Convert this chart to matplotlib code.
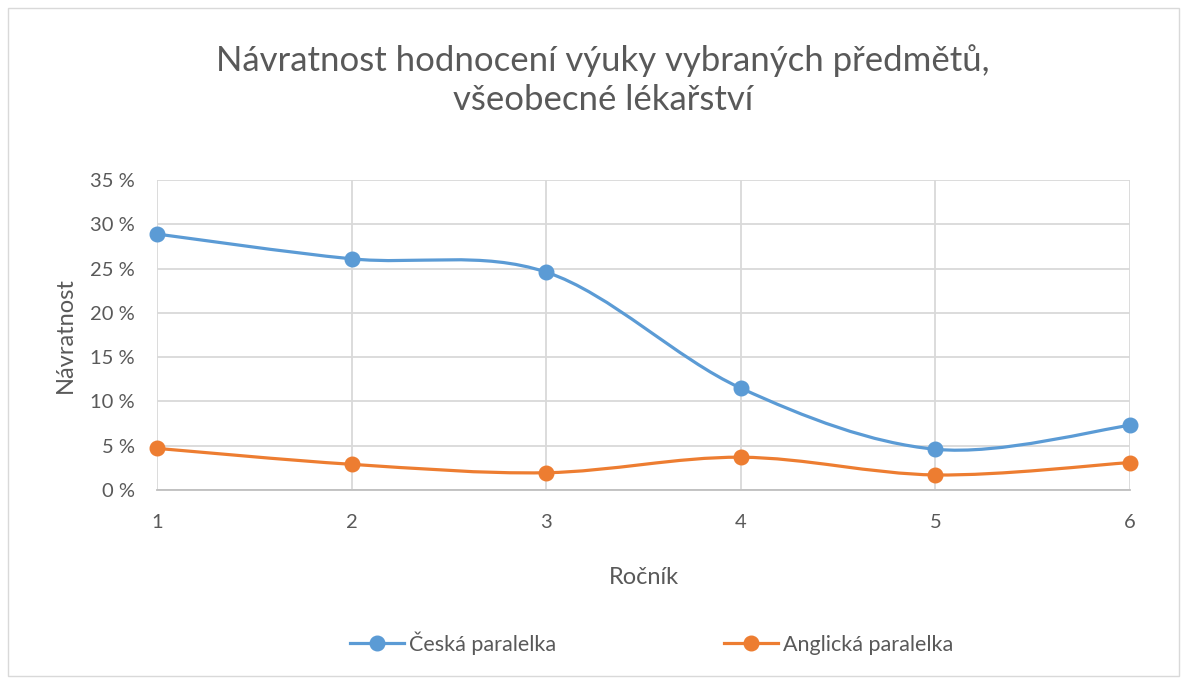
import matplotlib.pyplot as plt
import numpy as np
from matplotlib.path import Path
from matplotlib.patches import PathPatch, Rectangle
from matplotlib.lines import Line2D
from matplotlib.ticker import FuncFormatter

plt.rcParams['font.family'] = ['Lato', 'DejaVu Sans']

rocnik = [1, 2, 3, 4, 5, 6]
ceska = [28.9, 26.1, 24.6, 11.5, 4.6, 7.3]
anglicka = [4.7, 2.9, 1.95, 3.7, 1.7, 3.1]
names = ["Česká paralelka", "Anglická paralelka"]
colors = ["#5B9BD5", "#ED7D31"]


def smooth_path(x, y):
    # Excel-like smoothed line: bezier segments with catmull-rom control points
    pts = np.column_stack([x, y]).astype(float)
    n = len(pts)
    verts = [pts[0]]
    codes = [Path.MOVETO]
    for i in range(n - 1):
        p0 = pts[max(i - 1, 0)]
        p1 = pts[i]
        p2 = pts[i + 1]
        p3 = pts[min(i + 2, n - 1)]
        c1 = p1 + (p2 - p0) / 6
        c2 = p2 - (p3 - p1) / 6
        verts += [c1, c2, p2]
        codes += [Path.CURVE4] * 3
    return Path(verts, codes)


fig = plt.figure(figsize=(11.87, 6.84), dpi=100)
ax = fig.add_axes([157 / 1187, 1 - 490 / 684, (1130 - 157) / 1187, (490 - 180) / 684])

handles = []
for vals, c, name in zip([ceska, anglicka], colors, names):
    ax.add_patch(PathPatch(smooth_path(rocnik, vals), facecolor="none", edgecolor=c,
                           lw=2.3, capstyle="round", zorder=3))
    ax.plot(rocnik, vals, linestyle="none", marker="o", ms=10.5, color=c, zorder=4, clip_on=False)
    handles.append(Line2D([], [], color=c, lw=2.3, marker="o", ms=10.5, label=name))

ax.set_xlim(1, 6)
ax.set_ylim(0, 35)
ax.set_xticks(rocnik)
ax.set_yticks(range(0, 36, 5))
ax.yaxis.set_major_formatter(FuncFormatter(lambda v, p: f"{int(v)} %"))
ax.grid(True, color="#D9D9D9", lw=1.3)
ax.set_axisbelow(True)
for s in ["top", "right", "left"]:
    ax.spines[s].set_visible(False)
ax.spines["bottom"].set_color("#BFBFBF")
ax.spines["bottom"].set_linewidth(1.3)
ax.tick_params(length=0, labelsize=14.5, colors="#595959")
ax.tick_params(axis="x", pad=17)
ax.tick_params(axis="y", pad=16)

ax.set_xlabel("Ročník", fontsize=17, color="#595959", va="center")
ax.xaxis.set_label_coords(0.5, (490 - 577) / 310)
ax.set_ylabel("Návratnost", fontsize=17, color="#595959", va="center")
ax.yaxis.set_label_coords((65 - 157) / 973, 0.5)

fig.text(0.508, 1 - 80 / 684, "Návratnost hodnocení výuky vybraných předmětů,\nvšeobecné lékařství",
         ha="center", va="center", fontsize=25, color="#595959", linespacing=1.3)

fig.legend(handles=handles, loc="center", bbox_to_anchor=(0.549, 1 - 643 / 684), ncol=2,
           frameon=False, fontsize=15.5, handlelength=2.5, columnspacing=7.8, labelcolor="#595959",
           handletextpad=0.23)

fig.add_artist(Rectangle((8 / 1187, 8 / 684), 1 - 16 / 1187, 1 - 16 / 684,
                         transform=fig.transFigure, fill=False, edgecolor="#D9D9D9", lw=1))

fig.savefig("out.png", dpi=100)
